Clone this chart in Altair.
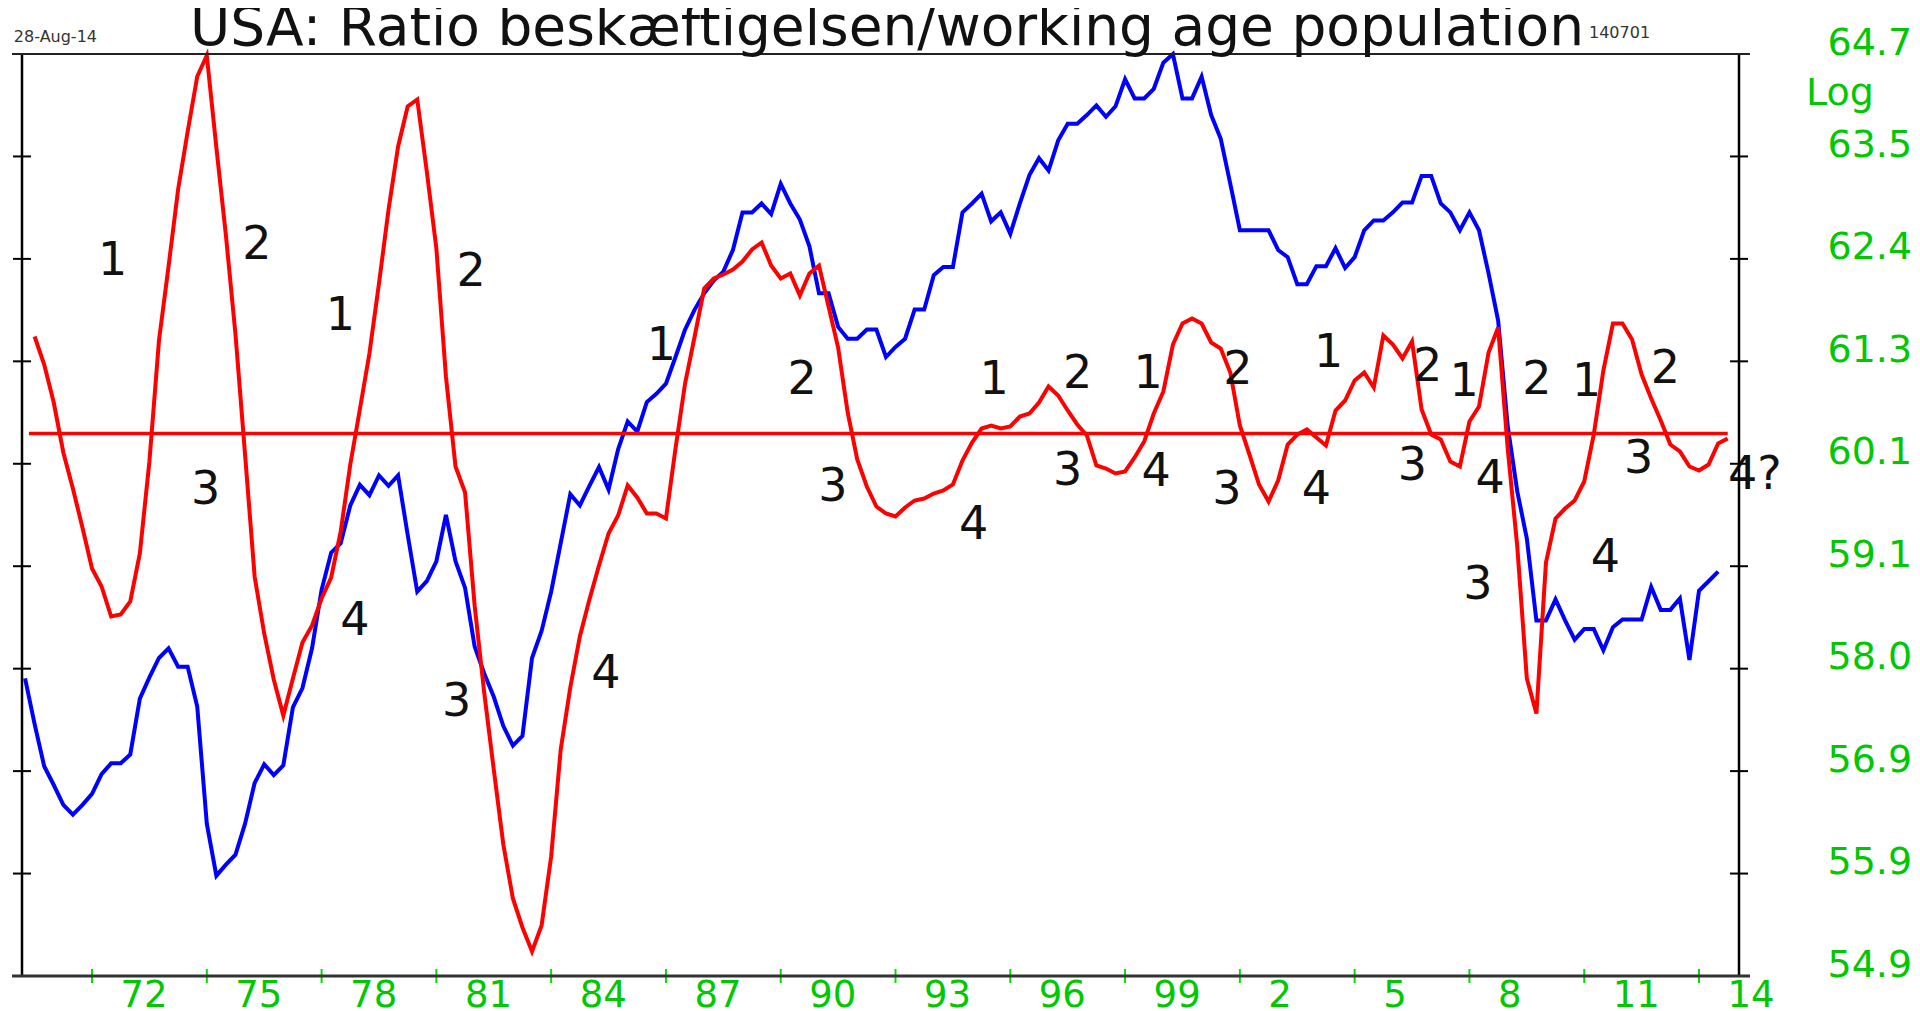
import altair as alt
import pandas as pd

# ---------------- data ----------------
# Blue: employment / working-age population ratio, quarterly, from 1970 Q2
blue_start = 1970.25
blue_values = [
    57.89, 57.42, 56.99, 56.80, 56.60, 56.50, 56.60, 56.71, 56.91, 57.02,
    57.02, 57.11, 57.68, 57.90, 58.10, 58.20, 58.01, 58.01, 57.60, 56.41,
    55.89, 56.00, 56.10, 56.41, 56.82, 57.01, 56.90, 57.00, 57.59, 57.79,
    58.20, 58.81, 59.20, 59.30, 59.70, 59.92, 59.81, 60.02, 59.91, 60.02,
    59.39, 58.79, 58.90, 59.11, 59.60, 59.11, 58.83, 58.22, 57.94, 57.70,
    57.40, 57.20, 57.30, 58.10, 58.38, 58.79, 59.30, 59.82, 59.70, 59.91,
    60.11, 59.87, 60.30, 60.60, 60.49, 60.81, 60.90, 61.01, 61.30, 61.60,
    61.82, 62.00, 62.14, 62.24, 62.48, 62.90, 62.90, 63.00, 62.88, 63.22,
    63.00, 62.82, 62.52, 62.00, 62.00, 61.63, 61.50, 61.50, 61.60, 61.60,
    61.30, 61.41, 61.50, 61.82, 61.82, 62.20, 62.29, 62.29, 62.90, 63.00,
    63.11, 62.80, 62.90, 62.66, 63.00, 63.32, 63.51, 63.37, 63.71, 63.90,
    63.90, 64.00, 64.11, 63.98, 64.10, 64.41, 64.19, 64.19, 64.30, 64.60,
    64.70, 64.19, 64.19, 64.44, 64.00, 63.73, 63.22, 62.70, 62.70, 62.70,
    62.70, 62.48, 62.40, 62.10, 62.10, 62.30, 62.30, 62.50, 62.28, 62.40,
    62.70, 62.81, 62.81, 62.90, 63.01, 63.01, 63.31, 63.31, 63.00, 62.90,
    62.70, 62.90, 62.70, 62.22, 61.70, 60.55, 59.85, 59.35, 58.49, 58.49,
    58.71, 58.49, 58.29, 58.40, 58.40, 58.18, 58.42, 58.50, 58.50, 58.50,
    58.84, 58.60, 58.60, 58.72, 58.08, 58.80, 58.90, 59.00,
]

# Red: oscillator (unscaled units, 0 = horizontal red line), quarterly
red_start = 1970.5
red_values = [
    0.97, 0.69, 0.31, -0.19, -0.55, -0.94, -1.35, -1.53, -1.83, -1.81,
    -1.68, -1.20, -0.28, 0.93, 1.67, 2.44, 3.02, 3.57, 3.78, 2.86,
    1.98, 0.99, -0.21, -1.43, -2.00, -2.46, -2.82, -2.45, -2.09, -1.92,
    -1.65, -1.44, -0.98, -0.31, 0.24, 0.80, 1.50, 2.24, 2.87, 3.27,
    3.34, 2.62, 1.85, 0.57, -0.33, -0.59, -1.72, -2.59, -3.36, -4.11,
    -4.65, -4.94, -5.18, -4.92, -4.23, -3.16, -2.54, -2.03, -1.66, -1.32,
    -1.00, -0.82, -0.52, -0.64, -0.80, -0.80, -0.85, -0.15, 0.50, 0.97,
    1.45, 1.55, 1.59, 1.64, 1.72, 1.84, 1.91, 1.68, 1.55, 1.60,
    1.38, 1.60, 1.68, 1.27, 0.86, 0.21, -0.26, -0.53, -0.73, -0.80,
    -0.83, -0.74, -0.67, -0.65, -0.60, -0.57, -0.51, -0.27, -0.09, 0.05,
    0.08, 0.05, 0.07, 0.17, 0.20, 0.31, 0.47, 0.38, 0.23, 0.09,
    -0.02, -0.32, -0.35, -0.40, -0.38, -0.24, -0.08, 0.20, 0.42, 0.89,
    1.10, 1.15, 1.10, 0.91, 0.85, 0.61, 0.08, -0.21, -0.51, -0.68,
    -0.47, -0.11, -0.01, 0.04, -0.04, -0.12, 0.23, 0.33, 0.53, 0.61,
    0.46, 0.98, 0.89, 0.75, 0.92, 0.24, -0.01, -0.06, -0.28, -0.33,
    0.12, 0.27, 0.81, 1.06, -0.15, -1.13, -2.45, -2.80, -1.29, -0.85,
    -0.75, -0.67, -0.48, -0.01, 0.63, 1.10, 1.10, 0.94, 0.59, 0.35,
    0.13, -0.11, -0.18, -0.33, -0.37, -0.31, -0.10, -0.05,
]
zero_line_span = [1970.35, 2014.75]

# Phase annotations (text, time, oscillator units)
ann_text = ["1", "2", "3", "4", "1", "2", "3", "4", "1", "2", "3", "4",
            "1", "2", "3", "4", "1", "2", "3", "4", "1", "2", "3", "4",
            "1", "2", "3", "1", "2", "3", "4"]
ann_t = [1972.54, 1976.31, 1974.97, 1978.87, 1978.49, 1981.91, 1981.53, 1985.43,
         1986.88, 1990.56, 1991.36, 1995.04, 1995.58, 1997.76, 1997.50, 1999.81,
         1999.60, 2001.95, 2001.66, 2004.00, 2004.32, 2006.91, 2006.51, 2008.54,
         2007.86, 2009.76, 2008.22, 2011.06, 2013.12, 2012.42, 2011.55]
ann_r = [1.73, 1.89, -0.56, -1.87, 1.18, 1.62, -2.68, -2.40,
         0.88, 0.54, -0.53, -0.91, 0.54, 0.60, -0.37, -0.38,
         0.60, 0.64, -0.56, -0.56, 0.81, 0.67, -0.32, -0.45,
         0.52, 0.54, -1.51, 0.52, 0.65, -0.25, -1.24]
last_note = {"text": "4?", "t": 2014.76, "r": -0.415}

x_tick_years = list(range(1972, 2015, 3))
y_low, y_high = 54.9, 64.7
y_tick_values = [y_low * (y_high / y_low) ** (k / 9) for k in range(10)]

TITLE = "USA: Ratio beskæftigelsen/working age population"
DATE_TEXT = "28-Aug-14"
CODE_TEXT = "140701"
LOG_TEXT = "Log"

# ---------------- styling ----------------
W, H = 1717, 922
FONT = "DejaVu Sans"
GREEN = "#00c800"
GREEN_TICK = "#00e000"
BLUE = "#0000ff"
RED = "#ff0000"

blue_df = pd.DataFrame({"t": [blue_start + 0.25 * i for i in range(len(blue_values))],
                        "v": blue_values})
red_df = pd.DataFrame({"t": [red_start + 0.25 * i for i in range(len(red_values))],
                       "r": red_values})
ann_df = pd.DataFrame({"label": ann_text, "t": ann_t, "r": ann_r})
last_df = pd.DataFrame({"label": [last_note["text"]], "t": [last_note["t"]], "r": [last_note["r"]]})
zero_df = pd.DataFrame({"t": [zero_line_span[0]], "t2": [zero_line_span[1]], "r": [0.0]})
xt_df = pd.DataFrame({"t": x_tick_years})
yt_df = pd.DataFrame({"v": y_tick_values[1:9]})
dummy = pd.DataFrame({"d": [0]})

x_scale = alt.Scale(domain=[1970.17, 2015.045], nice=False, zero=False)
x_axis = alt.Axis(values=x_tick_years, title=None, ticks=False, tickSize=0, domain=False, grid=False,
                  labelExpr="datum.value < 2000 ? format(datum.value - 1900, 'd') : format(datum.value - 2000, 'd')",
                  labelColor=GREEN, labelFont=FONT, labelFontSize=37, labelPadding=1,
                  labelAlign="left", labelBaseline="top", labelOffset=28,
                  labelOverlap=False, labelFlush=False)
x_enc = alt.X("t:Q", scale=x_scale, axis=x_axis)

blue_scale = alt.Scale(type="log", domain=[y_low, y_high], nice=False, zero=False)
blue_axis = alt.Axis(orient="right", values=y_tick_values, format=".1f", title=None,
                     ticks=False, tickSize=0, domain=False, grid=False,
                     labelColor=GREEN, labelFont=FONT, labelFontSize=38, labelPadding=88,
                     labelAlign="left", labelBaseline="middle", labelOffset=-11,
                     labelOverlap=False, labelFlush=False)
y_blue = alt.Y("v:Q", scale=blue_scale, axis=blue_axis)

red_scale = alt.Scale(domain=[-5.425, 3.795], nice=False, zero=False)
y_red = alt.Y("r:Q", scale=red_scale, axis=None)

blue_line = alt.Chart(blue_df).mark_line(color=BLUE, strokeWidth=4).encode(x=x_enc, y=y_blue)
left_ticks = alt.Chart(yt_df).mark_rule(color="black", strokeWidth=2).encode(
    y=y_blue, x=alt.value(-9), x2=alt.value(9))
right_ticks = alt.Chart(yt_df).mark_rule(color="black", strokeWidth=2).encode(
    y=y_blue, x=alt.value(W - 9), x2=alt.value(W + 9))
blue_group = alt.layer(blue_line, left_ticks, right_ticks)

zero_rule = alt.Chart(zero_df).mark_rule(color=RED, strokeWidth=3.5).encode(
    x=x_enc, x2=alt.X2("t2:Q"), y=y_red)
red_line = alt.Chart(red_df).mark_line(color=RED, strokeWidth=4).encode(x=x_enc, y=y_red)
ann = alt.Chart(ann_df).mark_text(font=FONT, fontSize=46, color="#111111",
                                  align="center", baseline="middle").encode(
    x=x_enc, y=y_red, text="label:N")
last_ann = alt.Chart(last_df).mark_text(font=FONT, fontSize=46, color="#111111",
                                        align="left", baseline="middle").encode(
    x=x_enc, y=y_red, text="label:N")
red_group = alt.layer(zero_rule, red_line, ann, last_ann)

green_ticks = alt.Chart(xt_df).mark_rule(color=GREEN_TICK, strokeWidth=2).encode(
    x=x_enc, y=alt.value(H - 7), y2=alt.value(H + 7))

frame_left = alt.Chart(dummy).mark_rule(color="black", strokeWidth=2.5).encode(
    x=alt.value(0), y=alt.value(0), y2=alt.value(H))
frame_right = alt.Chart(dummy).mark_rule(color="black", strokeWidth=2.5).encode(
    x=alt.value(W), y=alt.value(0), y2=alt.value(H))
frame_top = alt.Chart(dummy).mark_rule(color="#222222", strokeWidth=2).encode(
    y=alt.value(0), x=alt.value(-10), x2=alt.value(W + 11))
frame_bottom = alt.Chart(dummy).mark_rule(color="#333333", strokeWidth=3).encode(
    y=alt.value(H), x=alt.value(-10), x2=alt.value(W + 11))


def label(text, x, y, size, align, color, baseline="alphabetic"):
    return alt.Chart(pd.DataFrame({"label": [text]})).mark_text(
        font=FONT, fontSize=size, align=align, baseline=baseline, color=color).encode(
        text="label:N", x=alt.value(x), y=alt.value(y))


title_txt = label(TITLE, 865, -9, 55, "center", "#111111")
date_txt = label(DATE_TEXT, 75, -12, 16, "right", "#333333")
code_txt = label(CODE_TEXT, 1567, -16, 16, "left", "#333333")
log_txt = label(LOG_TEXT, 1784, 51, 38, "left", GREEN)

chart = alt.layer(
    blue_group, red_group, green_ticks,
    frame_left, frame_right, frame_top, frame_bottom,
    title_txt, date_txt, code_txt, log_txt,
).resolve_scale(y="independent").properties(
    width=W, height=H,
    padding={"left": 14, "top": 46, "right": 173, "bottom": 38},
    autosize=alt.AutoSizeParams(type="none"),
    background="white",
).configure_view(stroke=None)

chart.save("out.html", embed_options={"renderer": "svg", "actions": False})
